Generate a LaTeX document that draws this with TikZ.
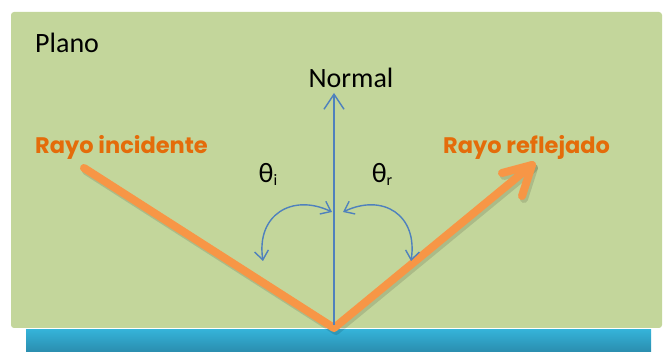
\documentclass[tikz,border=0pt]{standalone}
\usepackage{fontspec}
\setmainfont{Carlito}
\newfontfamily\rayofont{Poppins}
\usetikzlibrary{arrows.meta}

\definecolor{plano}{HTML}{C3D69B}
\definecolor{azul}{HTML}{4F81BD}
\definecolor{naranja}{HTML}{F79646}
\definecolor{textonar}{HTML}{E46C0A}
\definecolor{espejoA}{HTML}{35B2D8}
\definecolor{espejoB}{HTML}{2A8DAE}

\tikzset{
  normal/.style={draw=azul, line width=1.4pt},
  punta/.tip={Straight Barb[length=9pt, width=14pt]},
  rayo/.style={draw=naranja, line width=8pt, line cap=round, line join=round},
  sombra/.style={rayo, draw=black, opacity=0.12, transform canvas={shift={(2pt,-3pt)}}},
  etiq/.style={inner sep=0pt, font=\fontsize{28}{30}\selectfont},
  etiqrayo/.style={inner sep=0pt, text=textonar, font=\rayofont\bfseries\fontsize{22.5}{26}\selectfont}
}

\begin{document}
\begin{tikzpicture}[x=1pt, y=-1pt]
  \useasboundingbox (0,0) rectangle (665,352);

  % plano y espejo
  \fill[plano, rounded corners=3pt] (11,12) rectangle (662,328);
  \shade[top color=espejoA, bottom color=espejoB] (26,330) rectangle (651,352);

  % puntos
  \coordinate (hit)    at (334,328);
  \coordinate (ntip)   at (334,93);
  \coordinate (inicio) at (84,168);
  \coordinate (fin)    at (532,165);
  \coordinate (barbA)  at (502,173);
  \coordinate (barbB)  at (522,196);

  % rayos
  \draw[sombra] (inicio) -- (hit) -- (fin);
  \draw[sombra] (barbA) -- (fin) -- (barbB);
  \draw[rayo] (inicio) -- (hit) -- (fin);
  \draw[rayo] (barbA) -- (fin) -- (barbB);

  % normal
  \draw[normal, -{Straight Barb[length=15pt, width=20pt]}] (334,325) -- (ntip);

  % angulos
  \coordinate (ai) at (263,261);
  \coordinate (af) at (332,212);
  \coordinate (ri) at (343,212);
  \coordinate (rf) at (411,261);
  \draw[normal, punta-punta] (ai) .. controls (256,215) and (292,193) .. (af);
  \draw[normal, punta-punta] (ri) .. controls (383,193) and (418,215) .. (rf);

  % textos
  \node[etiq, anchor=base west] (plano) at (35,53) {Plano};
  \node[etiq, anchor=base] (normal) at (351,88) {Normal};
  \node[etiqrayo, anchor=base west] (incid) at (35,154) {Rayo incidente};
  \node[etiqrayo, anchor=base west] (refl) at (443,154) {Rayo reflejado};
  \node[etiq, anchor=base] (thi) at (268,183) {θ\raisebox{-0.2ex}{\fontsize{16}{16}\selectfont i}};
  \node[etiq, anchor=base] (thr) at (382,183) {θ\raisebox{-0.2ex}{\fontsize{16}{16}\selectfont r}};
\end{tikzpicture}
\end{document}
